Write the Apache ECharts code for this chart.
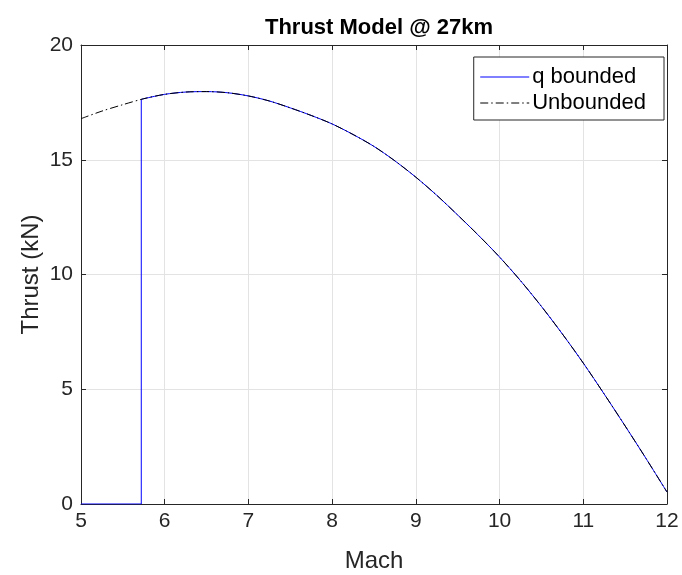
<!DOCTYPE html>
<html>
<head>
<meta charset="utf-8">
<script src="https://cdn.jsdelivr.net/npm/echarts@6/dist/echarts.min.js"></script>
<style>
  html, body { margin: 0; padding: 0; background: #fff; }
  #chart { width: 682px; height: 575px; }
</style>
</head>
<body>
<div id="chart"></div>
<script>
// Thrust vs Mach number at 27 km altitude
const machPoints = [5.00, 5.25, 5.50, 5.75, 6.00, 6.25, 6.50, 6.75, 7.00, 7.25, 7.50, 7.75, 8.00,
                    8.25, 8.50, 8.75, 9.00, 9.25, 9.50, 9.75, 10.00, 10.25, 10.50, 10.75, 11.00,
                    11.25, 11.50, 11.75, 12.00];
const thrustUnbounded = [16.79, 17.12, 17.40, 17.66, 17.85, 17.95, 17.97, 17.92, 17.78, 17.56, 17.26, 16.93, 16.56,
                         16.10, 15.58, 14.95, 14.24, 13.45, 12.59, 11.70, 10.76, 9.73, 8.61, 7.41, 6.14,
                         4.79, 3.40, 1.98, 0.52];

// Dynamic-pressure limit: thrust is zero below this Mach number
const qLimitMach = 5.72;
const qLimitThrust = 17.63;

const xTicks = [5, 6, 7, 8, 9, 10, 11, 12];
const yTicks = [0, 5, 10, 15, 20];

const unboundedData = machPoints.map((m, i) => [m, thrustUnbounded[i]]);
const boundedStep = [[machPoints[0], 0], [qLimitMach, 0], [qLimitMach, qLimitThrust]];
const boundedCurve = [[qLimitMach, qLimitThrust]].concat(
  machPoints.map((m, i) => [m, thrustUnbounded[i]]).filter(p => p[0] > qLimitMach)
);

const axisColor = '#262626';
const gridColor = '#e3e3e3';
const font = 'Liberation Sans, Arial, Helvetica, sans-serif';

const chart = echarts.init(document.getElementById('chart'), null, { renderer: 'canvas' });

const xBase = {
  type: 'value',
  min: xTicks[0],
  max: xTicks[xTicks.length - 1],
  interval: 1,
  axisLine: { show: true, onZero: false, lineStyle: { color: axisColor, width: 1 } },
  axisTick: { show: true, inside: true, length: 5, lineStyle: { color: axisColor } }
};
const yBase = {
  type: 'value',
  min: yTicks[0],
  max: yTicks[yTicks.length - 1],
  interval: 5,
  axisLine: { show: true, onZero: false, lineStyle: { color: axisColor, width: 1 } },
  axisTick: { show: true, inside: true, length: 5, lineStyle: { color: axisColor } }
};

chart.setOption({
  animation: false,
  backgroundColor: '#ffffff',
  title: {
    text: 'Thrust Model @ 27km',
    left: 374,
    textAlign: 'center',
    top: 12,
    textStyle: { fontFamily: font, fontSize: 22, fontWeight: 'bold', color: '#000' }
  },
  grid: { left: 81, right: 15, top: 45, bottom: 71, containLabel: false, outerBoundsMode: 'none' },
  legend: {
    data: ['q bounded', 'Unbounded'],
    orient: 'vertical',
    right: 18,
    top: 57,
    itemWidth: 49,
    itemHeight: 18,
    itemGap: 4,
    padding: [9, 18, 6, 6],
    backgroundColor: '#fff',
    borderColor: axisColor,
    borderWidth: 1,
    borderRadius: 0,
    itemStyle: { opacity: 0 },
    lineStyle: { width: 1 },
    textStyle: { fontFamily: font, fontSize: 22, color: '#000', padding: [0, 0, 0, -2] }
  },
  xAxis: [
    Object.assign({}, xBase, {
      position: 'bottom',
      name: 'Mach',
      nameLocation: 'middle',
      nameGap: 45,
      nameMoveOverlap: false,
      nameTextStyle: { fontFamily: font, fontSize: 24, color: axisColor },
      axisLabel: { show: true, margin: 7, fontFamily: font, fontSize: 21, color: axisColor },
      splitLine: { show: true, lineStyle: { color: gridColor, width: 1 } }
    }),
    Object.assign({}, xBase, {
      position: 'top',
      axisLabel: { show: false },
      splitLine: { show: false }
    })
  ],
  yAxis: [
    Object.assign({}, yBase, {
      position: 'left',
      name: 'Thrust (kN)',
      nameLocation: 'middle',
      nameGap: 38,
      nameMoveOverlap: false,
      nameTextStyle: { fontFamily: font, fontSize: 24, color: axisColor },
      axisLabel: { show: true, margin: 8, fontFamily: font, fontSize: 21, color: axisColor },
      splitLine: { show: true, lineStyle: { color: gridColor, width: 1 } }
    }),
    Object.assign({}, yBase, {
      position: 'right',
      axisLabel: { show: false },
      splitLine: { show: false }
    })
  ],
  series: [
    {
      name: 'q bounded',
      type: 'line',
      data: boundedStep,
      showSymbol: false,
      symbol: 'none',
      lineStyle: { color: '#0000ff', width: 1 },
      itemStyle: { color: '#0000ff' },
      z: 2
    },
    {
      name: 'q bounded',
      type: 'line',
      data: boundedCurve,
      smooth: 0.3,
      showSymbol: false,
      symbol: 'none',
      lineStyle: { color: '#0000ff', width: 1 },
      itemStyle: { color: '#0000ff' },
      z: 2
    },
    {
      name: 'Unbounded',
      type: 'line',
      data: unboundedData,
      smooth: 0.3,
      showSymbol: false,
      symbol: 'none',
      lineStyle: { color: '#000000', width: 1, type: [8, 3, 1.5, 3] },
      itemStyle: { color: '#000000' },
      z: 3
    }
  ]
});
</script>
</body>
</html>
